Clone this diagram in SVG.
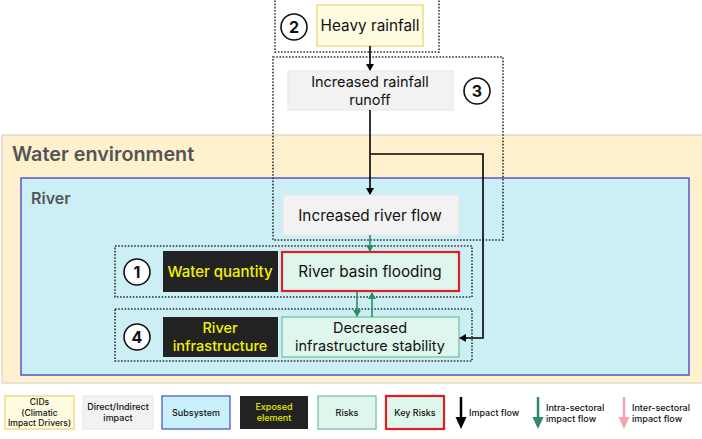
<svg xmlns="http://www.w3.org/2000/svg" width="702" height="439" viewBox="0 0 702 439">
<defs>
<marker id="ab" markerWidth="8" markerHeight="8" refX="6" refY="4" orient="auto" markerUnits="userSpaceOnUse"><path d="M0,0 L7,4 L0,8 Z" fill="#000"/></marker>
<marker id="ag" markerWidth="8" markerHeight="8" refX="6" refY="4" orient="auto" markerUnits="userSpaceOnUse"><path d="M0,0 L7,4 L0,8 Z" fill="#2E8B67"/></marker>
<style>
text{font-family:Inter,"Noto Sans",sans-serif;}
.t{font-size:14.5px;fill:#111;text-anchor:middle;}
.t1{font-size:15.3px;fill:#111;text-anchor:middle;}
.ty{font-size:14.5px;fill:#F2F200;text-anchor:middle;font-weight:500;}
.cid{fill:#FFFDE1;stroke:#F2D985;stroke-width:1.5;}
.gr{fill:#F2F2F2;stroke:#E6E6E6;stroke-width:1;}
.rk{fill:#DFF6EC;stroke:#6CBFA0;stroke-width:1.2;}
.kr{fill:#DFF6EC;stroke:#E02020;stroke-width:2.2;}
.ex{fill:#222;}
.dot{fill:none;stroke:#333;stroke-width:1.6;stroke-dasharray:1.6 1.6;}
.circ{fill:#fff;stroke:#111;stroke-width:1.6;}
.num{font-size:16px;font-weight:bold;fill:#111;text-anchor:middle;}
.lg{font-size:9px;fill:#111;text-anchor:middle;font-weight:500;}
.lgl{font-size:9px;fill:#111;font-weight:500;}
</style>
</defs>
<g id="water-environment">
<rect x="2" y="135" width="705" height="248" fill="#FFF0CE" stroke="#DDD6C6" stroke-width="1.2"/>
<text x="12" y="161" style="font-size:19.8px;fill:#555;font-weight:600;">Water environment</text>
</g>
<g id="river">
<rect x="21" y="178" width="668" height="197" fill="#CCEEF5" stroke="#4B4BCB" stroke-width="1.4"/>
<text x="31" y="204" style="font-size:16px;fill:#555;font-weight:600;">River</text>
</g>
<g id="group2">
<rect class="dot" x="275" y="-2" width="164" height="54"/>
<circle class="circ" cx="294" cy="27" r="13"/><text class="num" x="294" y="33">2</text>
</g>
<g id="group3">
<rect class="dot" x="273" y="57" width="230" height="183"/>
<circle class="circ" cx="477" cy="91" r="13"/><text class="num" x="477" y="97">3</text>
</g>
<g id="group1">
<rect class="dot" x="115" y="246" width="357" height="51"/>
<circle class="circ" cx="137" cy="272" r="13"/><text class="num" x="137" y="278">1</text>
</g>
<g id="group4">
<rect class="dot" x="115" y="309" width="357" height="52"/>
<circle class="circ" cx="137" cy="337" r="13"/><text class="num" x="137" y="343">4</text>
</g>
<g id="heavy-rainfall">
<rect class="cid" x="317" y="5" width="106" height="41"/>
<text class="t1" x="370" y="31">Heavy rainfall</text>
</g>
<g id="increased-rainfall-runoff">
<rect class="gr" x="288" y="71" width="165" height="39"/>
<text class="t" x="370" y="87">Increased rainfall</text>
<text class="t" x="370" y="104.5">runoff</text>
</g>
<g id="increased-river-flow">
<rect class="gr" x="283" y="195" width="176" height="40"/>
<text class="t1" x="370" y="220.5">Increased river flow</text>
</g>
<g id="water-quantity">
<rect class="ex" x="163" y="251" width="115" height="41"/>
<text class="ty" x="220" y="276.5" style="font-size:15px">Water quantity</text>
</g>
<g id="river-basin-flooding">
<rect class="kr" x="282" y="252" width="177" height="39"/>
<text class="t1" x="370" y="276.5">River basin flooding</text>
</g>
<g id="river-infrastructure">
<rect class="ex" x="163" y="317" width="115" height="40"/>
<text class="ty" x="220" y="333">River</text>
<text class="ty" x="220" y="350.5">infrastructure</text>
</g>
<g id="decreased-infrastructure-stability">
<rect class="rk" x="282" y="317" width="177" height="40"/>
<text class="t" x="370" y="333">Decreased</text>
<text class="t" x="370" y="350.5">infrastructure stability</text>
</g>
<g id="connectors" fill="none">
<line x1="370" y1="46" x2="370" y2="70" stroke="#000" stroke-width="1.6" marker-end="url(#ab)"/>
<line x1="370" y1="110" x2="370" y2="194" stroke="#000" stroke-width="1.6" marker-end="url(#ab)"/>
<polyline points="370,154 483,154 483,338 460,338" stroke="#000" stroke-width="1.6" marker-end="url(#ab)"/>
<line x1="370" y1="235" x2="370" y2="251" stroke="#2E8B67" stroke-width="1.6" marker-end="url(#ag)"/>
<line x1="357" y1="292" x2="357" y2="316" stroke="#2E8B67" stroke-width="1.6" marker-end="url(#ag)"/>
<line x1="372" y1="317" x2="372" y2="293" stroke="#2E8B67" stroke-width="1.6" marker-end="url(#ag)"/>
</g>
<g id="legend">
<rect class="cid" x="5" y="396" width="69" height="33"/>
<text class="lg" x="39.5" y="405" style="font-size:8.6px">CIDs</text>
<text class="lg" x="39.5" y="415.5" style="font-size:8.6px">(Climatic</text>
<text class="lg" x="39.5" y="426" style="font-size:8.6px">Impact Drivers)</text>
<rect class="gr" x="83" y="396" width="70" height="33"/>
<text class="lg" x="118" y="410">Direct/Indirect</text>
<text class="lg" x="118" y="421">impact</text>
<rect x="162" y="396" width="68" height="33" fill="#C9F0FB" stroke="#4B5BCB" stroke-width="1.3"/>
<text class="lg" x="196" y="416">Subsystem</text>
<rect class="ex" x="240" y="396" width="68" height="33"/>
<text class="lg" x="274" y="410" style="fill:#E8E800">Exposed</text>
<text class="lg" x="274" y="421" style="fill:#E8E800">element</text>
<rect class="rk" x="318" y="396" width="58" height="33"/>
<text class="lg" x="347" y="416">Risks</text>
<rect class="kr" x="386" y="396" width="58" height="33"/>
<text class="lg" x="415" y="416">Key Risks</text>
<line x1="461" y1="397" x2="461" y2="418" stroke="#000" stroke-width="2.5"/>
<path d="M455.5,417 L466.5,417 L461,429 Z" fill="#000"/>
<text class="lgl" x="469" y="416">Impact flow</text>
<line x1="538" y1="397" x2="538" y2="418" stroke="#2E8B67" stroke-width="2.5"/>
<path d="M532.5,417 L543.5,417 L538,429 Z" fill="#2E8B67"/>
<text class="lgl" x="546" y="411">Intra-sectoral</text>
<text class="lgl" x="546" y="422">impact flow</text>
<line x1="624" y1="397" x2="624" y2="418" stroke="#F2A4AE" stroke-width="2.5"/>
<path d="M618.5,417 L629.5,417 L624,429 Z" fill="#F2A4AE"/>
<text class="lgl" x="632" y="411">Inter-sectoral</text>
<text class="lgl" x="632" y="422">impact flow</text>
</g>
</svg>
